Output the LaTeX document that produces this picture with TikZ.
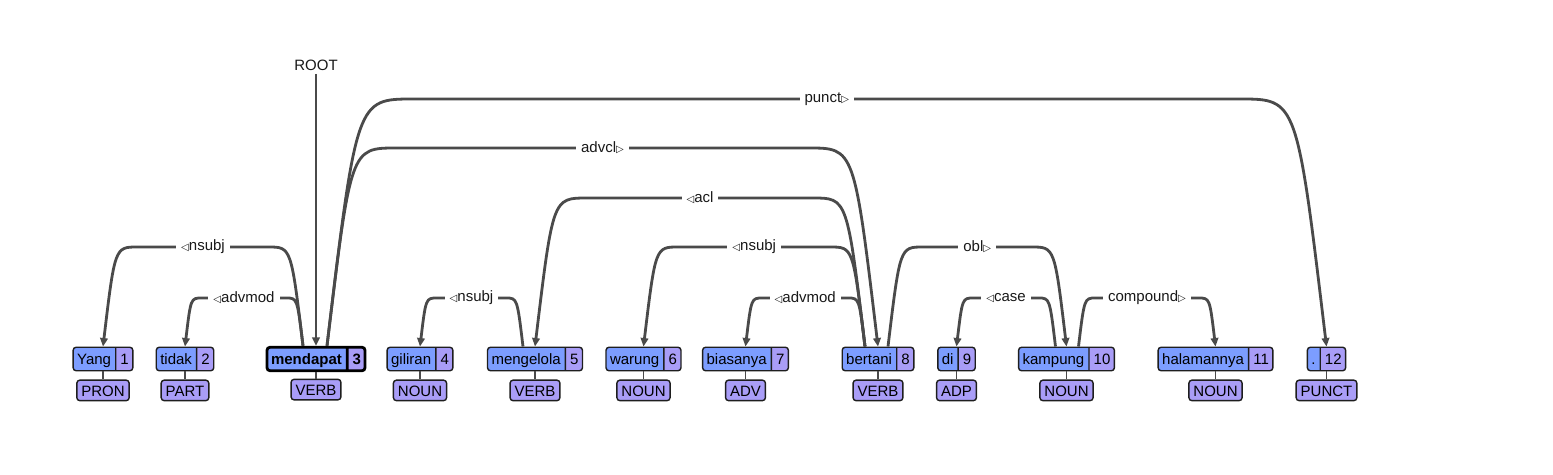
\documentclass[tikz,border=0pt]{standalone}
\usepackage{fontspec}
\setmainfont{Liberation Sans}
\newfontfamily\trifont{DejaVu Sans}
\usepackage{tikz}
\usetikzlibrary{arrows.meta,positioning,calc,shapes.multipart}

\definecolor{wordblue}{RGB}{124,157,255}
\definecolor{numpurple}{RGB}{169,157,247}
\definecolor{arcgray}{RGB}{74,74,74}
\definecolor{boxline}{RGB}{30,30,30}

\newcommand{\dirL}{{\trifont\fontsize{10}{10}\selectfont ◁}}
\newcommand{\dirR}{{\trifont\fontsize{10}{10}\selectfont ▷}}

% one dependency arc: start, end, level, label
\newcommand{\deparc}[4]{%
  \draw[arc] let \p1=(#1), \p2=(#2), \p3=(#3),
      \n1={\y3-\y1}, \n2={sign(\x2-\x1)} in
    (\p1) .. controls ({\x1+\n2*0.12pt*\n1},\y3) .. ({\x1+\n2*0.35pt*\n1},\y3)
    -- node[lbl]{#4} ({\x2-\n2*0.35pt*\n1},\y3)
    .. controls ({\x2-\n2*0.12pt*\n1},\y3) .. (\p2);}

\begin{document}
\begin{tikzpicture}[x=1pt,y=-1pt,
  tok/.style={rectangle split,rectangle split horizontal,rectangle split parts=2,
    rectangle split part fill={wordblue,numpurple},draw=boxline,line width=1.4pt,
    rounded corners=3pt,inner xsep=4pt,inner ysep=4.5pt,text height=13pt,text depth=1.5pt,
    font=\fontsize{15}{17}\selectfont},
  headtok/.style={tok,line width=2.8pt,draw=black,font=\fontsize{15}{17}\selectfont\bfseries},
  postag/.style={draw=boxline,fill=numpurple,line width=1.4pt,rounded corners=3pt,
    inner xsep=4.5pt,inner ysep=4pt,text height=12.5pt,text depth=-1pt,
    font=\fontsize{15}{17}\selectfont},
  stem/.style={draw=arcgray,line width=1.5pt},
  arc/.style={draw=arcgray,line width=2.8pt,-{Triangle[length=8.5pt,width=7.5pt]}},
  lbl/.style={fill=white,inner xsep=5pt,inner ysep=1pt,text=black!90,
    font=\fontsize{15}{17}\selectfont}]
  \useasboundingbox[fill=white] (0,0) rectangle (1553,474);

  % arc levels
  \coordinate (lvA) at (0,298);
  \coordinate (lvB) at (0,247);
  \coordinate (lvC) at (0,198);
  \coordinate (lvD) at (0,148);
  \coordinate (lvE) at (0,99);

  % tokens
  \node[tok] (t1) at (103,359) {Yang\nodepart{two}1};
  \node[tok] (t2) at (185,359) {tidak\nodepart{two}2};
  \node[headtok] (t3) at (316,359) {mendapat\nodepart{two}3};
  \node[tok] (t4) at (420,359) {giliran\nodepart{two}4};
  \node[tok] (t5) at (535,359) {mengelola\nodepart{two}5};
  \node[tok] (t6) at (643.5,359) {warung\nodepart{two}6};
  \node[tok] (t7) at (745.5,359) {biasanya\nodepart{two}7};
  \node[tok] (t8) at (878,359) {bertani\nodepart{two}8};
  \node[tok] (t9) at (956.5,359) {di\nodepart{two}9};
  \node[tok] (t10) at (1066.5,359) {kampung\nodepart{two}10};
  \node[tok] (t11) at (1215.5,359) {halamannya\nodepart{two}11};
  \node[tok] (t12) at (1326.5,359) {.\nodepart{two}12};

  % part-of-speech tags
  \node[postag,below=8pt of t1] (p1) {PRON};
  \node[postag,below=8pt of t2] (p2) {PART};
  \node[postag,below=6.5pt of t3] (p3) {VERB};
  \node[postag,below=8pt of t4] (p4) {NOUN};
  \node[postag,below=8pt of t5] (p5) {VERB};
  \node[postag,below=8pt of t6] (p6) {NOUN};
  \node[postag,below=8pt of t7] (p7) {ADV};
  \node[postag,below=8pt of t8] (p8) {VERB};
  \node[postag,below=8pt of t9] (p9) {ADP};
  \node[postag,below=8pt of t10] (p10) {NOUN};
  \node[postag,below=8pt of t11] (p11) {NOUN};
  \node[postag,below=8pt of t12] (p12) {PUNCT};
  \foreach \i in {1,...,12}
    \draw[stem] (t\i) -- (p\i);

  % root
  \node[font=\fontsize{15}{17}\selectfont,text=black!90] (root) at (316,65) {ROOT};
  \draw[arc] (root) -- (t3);

  % dependencies
  \deparc{[xshift=-13pt]t3.north}{t1.north}{lvB}{\dirL nsubj}
  \deparc{[xshift=-13pt]t3.north}{t2.north}{lvA}{\dirL advmod}
  \deparc{[xshift=11pt]t3.north}{t8.north}{lvD}{advcl\dirR}
  \deparc{[xshift=11pt]t3.north}{t12.north}{lvE}{punct\dirR}
  \deparc{[xshift=-12pt]t5.north}{t4.north}{lvA}{\dirL nsubj}
  \deparc{[xshift=-13pt]t8.north}{t5.north}{lvC}{\dirL acl}
  \deparc{[xshift=-13pt]t8.north}{t6.north}{lvB}{\dirL nsubj}
  \deparc{[xshift=-13pt]t8.north}{t7.north}{lvA}{\dirL advmod}
  \deparc{[xshift=10pt]t8.north}{t10.north}{lvB}{obl\dirR}
  \deparc{[xshift=-11pt]t10.north}{t9.north}{lvA}{\dirL case}
  \deparc{[xshift=12pt]t10.north}{t11.north}{lvA}{compound\dirR}
\end{tikzpicture}
\end{document}
